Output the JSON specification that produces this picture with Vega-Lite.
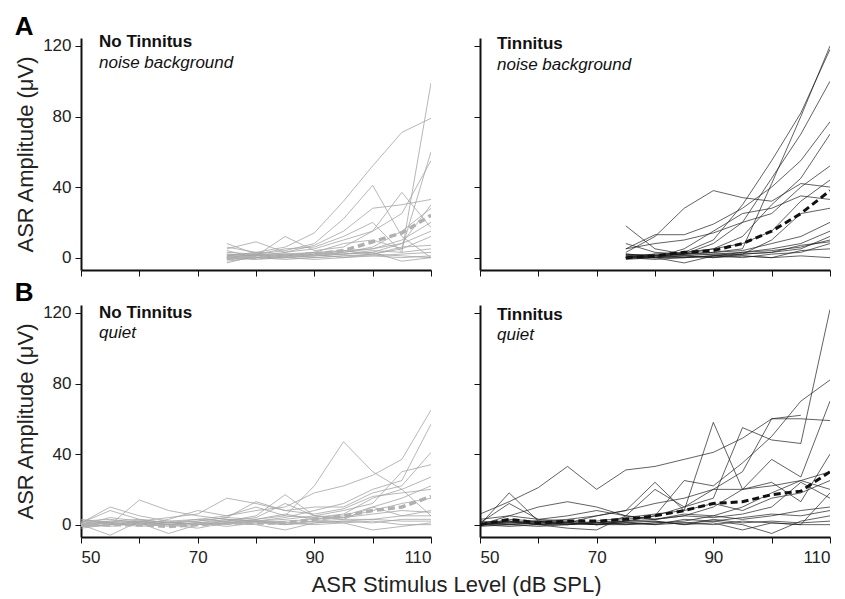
{
  "$schema": "https://vega.github.io/schema/vega-lite/v6.json",
  "padding": {"left": 14, "top": 14, "right": 0, "bottom": 0},
  "background": "white",
  "datasets": {
    "tl": [
      {"s":1,"x":75,"y":1},{"s":1,"x":80,"y":3},{"s":1,"x":85,"y":6},{"s":1,"x":90,"y":14},{"s":1,"x":95,"y":32},{"s":1,"x":100,"y":52},{"s":1,"x":105,"y":71},{"s":1,"x":110,"y":79},
      {"s":2,"x":75,"y":0},{"s":2,"x":80,"y":2},{"s":2,"x":85,"y":4},{"s":2,"x":90,"y":8},{"s":2,"x":95,"y":22},{"s":2,"x":100,"y":41},{"s":2,"x":105,"y":12},{"s":2,"x":110,"y":0},
      {"s":3,"x":75,"y":8},{"s":3,"x":80,"y":2},{"s":3,"x":85,"y":5},{"s":3,"x":90,"y":6},{"s":3,"x":95,"y":12},{"s":3,"x":100,"y":20},{"s":3,"x":105,"y":3},{"s":3,"x":110,"y":99},
      {"s":4,"x":75,"y":-2},{"s":4,"x":80,"y":0},{"s":4,"x":85,"y":1},{"s":4,"x":90,"y":3},{"s":4,"x":95,"y":8},{"s":4,"x":100,"y":10},{"s":4,"x":105,"y":5},{"s":4,"x":110,"y":60},
      {"s":5,"x":75,"y":2},{"s":5,"x":80,"y":1},{"s":5,"x":85,"y":3},{"s":5,"x":90,"y":5},{"s":5,"x":95,"y":10},{"s":5,"x":100,"y":15},{"s":5,"x":105,"y":25},{"s":5,"x":110,"y":55},
      {"s":6,"x":75,"y":5},{"s":6,"x":80,"y":9},{"s":6,"x":85,"y":3},{"s":6,"x":90,"y":7},{"s":6,"x":95,"y":15},{"s":6,"x":100,"y":28},{"s":6,"x":105,"y":30},{"s":6,"x":110,"y":33},
      {"s":7,"x":75,"y":-3},{"s":7,"x":80,"y":1},{"s":7,"x":85,"y":12},{"s":7,"x":90,"y":4},{"s":7,"x":95,"y":6},{"s":7,"x":100,"y":15},{"s":7,"x":105,"y":37},{"s":7,"x":110,"y":17},
      {"s":8,"x":75,"y":4},{"s":8,"x":80,"y":0},{"s":8,"x":85,"y":2},{"s":8,"x":90,"y":1},{"s":8,"x":95,"y":3},{"s":8,"x":100,"y":6},{"s":8,"x":105,"y":15},{"s":8,"x":110,"y":28},
      {"s":9,"x":75,"y":0},{"s":9,"x":80,"y":-1},{"s":9,"x":85,"y":0},{"s":9,"x":90,"y":2},{"s":9,"x":95,"y":4},{"s":9,"x":100,"y":5},{"s":9,"x":105,"y":10},{"s":9,"x":110,"y":20},
      {"s":10,"x":75,"y":1},{"s":10,"x":80,"y":2},{"s":10,"x":85,"y":0},{"s":10,"x":90,"y":1},{"s":10,"x":95,"y":2},{"s":10,"x":100,"y":3},{"s":10,"x":105,"y":8},{"s":10,"x":110,"y":15},
      {"s":11,"x":75,"y":-1},{"s":11,"x":80,"y":0},{"s":11,"x":85,"y":1},{"s":11,"x":90,"y":0},{"s":11,"x":95,"y":1},{"s":11,"x":100,"y":2},{"s":11,"x":105,"y":5},{"s":11,"x":110,"y":12},
      {"s":12,"x":75,"y":6},{"s":12,"x":80,"y":3},{"s":12,"x":85,"y":2},{"s":12,"x":90,"y":3},{"s":12,"x":95,"y":2},{"s":12,"x":100,"y":4},{"s":12,"x":105,"y":3},{"s":12,"x":110,"y":5},
      {"s":13,"x":75,"y":0},{"s":13,"x":80,"y":0},{"s":13,"x":85,"y":-1},{"s":13,"x":90,"y":0},{"s":13,"x":95,"y":1},{"s":13,"x":100,"y":1},{"s":13,"x":105,"y":2},{"s":13,"x":110,"y":3},
      {"s":14,"x":75,"y":2},{"s":14,"x":80,"y":1},{"s":14,"x":85,"y":1},{"s":14,"x":90,"y":2},{"s":14,"x":95,"y":0},{"s":14,"x":100,"y":1},{"s":14,"x":105,"y":0},{"s":14,"x":110,"y":1},
      {"s":15,"x":75,"y":-1},{"s":15,"x":80,"y":0},{"s":15,"x":85,"y":0},{"s":15,"x":90,"y":-1},{"s":15,"x":95,"y":0},{"s":15,"x":100,"y":2},{"s":15,"x":105,"y":1},{"s":15,"x":110,"y":0},
      {"s":16,"x":75,"y":3},{"s":16,"x":80,"y":2},{"s":16,"x":85,"y":1},{"s":16,"x":90,"y":3},{"s":16,"x":95,"y":4},{"s":16,"x":100,"y":2},{"s":16,"x":105,"y":6},{"s":16,"x":110,"y":7},
      {"s":17,"x":75,"y":0},{"s":17,"x":80,"y":1},{"s":17,"x":85,"y":2},{"s":17,"x":90,"y":2},{"s":17,"x":95,"y":3},{"s":17,"x":100,"y":5},{"s":17,"x":105,"y":8},{"s":17,"x":110,"y":30},
      {"s":18,"x":75,"y":1},{"s":18,"x":80,"y":0},{"s":18,"x":85,"y":0},{"s":18,"x":90,"y":1},{"s":18,"x":95,"y":2},{"s":18,"x":100,"y":3},{"s":18,"x":105,"y":-2},{"s":18,"x":110,"y":0}
    ],
    "tlm": [
      {"x":75,"y":0},{"x":80,"y":0},{"x":85,"y":1},{"x":90,"y":2},{"x":95,"y":4},{"x":100,"y":9},{"x":105,"y":14},{"x":110,"y":24}
    ],
    "tr": [
      {"s":1,"x":75,"y":0},{"s":1,"x":80,"y":1},{"s":1,"x":85,"y":2},{"s":1,"x":90,"y":3},{"s":1,"x":95,"y":5},{"s":1,"x":100,"y":42},{"s":1,"x":105,"y":80},{"s":1,"x":110,"y":120},
      {"s":2,"x":75,"y":1},{"s":2,"x":80,"y":0},{"s":2,"x":85,"y":3},{"s":2,"x":90,"y":10},{"s":2,"x":95,"y":30},{"s":2,"x":100,"y":55},{"s":2,"x":105,"y":82},{"s":2,"x":110,"y":118},
      {"s":3,"x":75,"y":18},{"s":3,"x":80,"y":5},{"s":3,"x":85,"y":2},{"s":3,"x":90,"y":8},{"s":3,"x":95,"y":20},{"s":3,"x":100,"y":45},{"s":3,"x":105,"y":70},{"s":3,"x":110,"y":100},
      {"s":4,"x":75,"y":3},{"s":4,"x":80,"y":12},{"s":4,"x":85,"y":28},{"s":4,"x":90,"y":38},{"s":4,"x":95,"y":34},{"s":4,"x":100,"y":32},{"s":4,"x":105,"y":42},{"s":4,"x":110,"y":40},
      {"s":5,"x":75,"y":5},{"s":5,"x":80,"y":13},{"s":5,"x":85,"y":13},{"s":5,"x":90,"y":19},{"s":5,"x":95,"y":28},{"s":5,"x":100,"y":40},{"s":5,"x":105,"y":55},{"s":5,"x":110,"y":77},
      {"s":6,"x":75,"y":8},{"s":6,"x":80,"y":3},{"s":6,"x":85,"y":2},{"s":6,"x":90,"y":5},{"s":6,"x":95,"y":12},{"s":6,"x":100,"y":30},{"s":6,"x":105,"y":45},{"s":6,"x":110,"y":70},
      {"s":7,"x":75,"y":5},{"s":7,"x":80,"y":8},{"s":7,"x":85,"y":10},{"s":7,"x":90,"y":14},{"s":7,"x":95,"y":20},{"s":7,"x":100,"y":25},{"s":7,"x":105,"y":40},{"s":7,"x":110,"y":52},
      {"s":8,"x":75,"y":2},{"s":8,"x":80,"y":0},{"s":8,"x":85,"y":5},{"s":8,"x":90,"y":15},{"s":8,"x":95,"y":25},{"s":8,"x":100,"y":28},{"s":8,"x":105,"y":35},{"s":8,"x":110,"y":33},
      {"s":9,"x":75,"y":0},{"s":9,"x":80,"y":2},{"s":9,"x":85,"y":3},{"s":9,"x":90,"y":5},{"s":9,"x":95,"y":8},{"s":9,"x":100,"y":15},{"s":9,"x":105,"y":32},{"s":9,"x":110,"y":44},
      {"s":10,"x":75,"y":1},{"s":10,"x":80,"y":0},{"s":10,"x":85,"y":-3},{"s":10,"x":90,"y":1},{"s":10,"x":95,"y":2},{"s":10,"x":100,"y":10},{"s":10,"x":105,"y":25},{"s":10,"x":110,"y":28},
      {"s":11,"x":75,"y":0},{"s":11,"x":80,"y":1},{"s":11,"x":85,"y":2},{"s":11,"x":90,"y":3},{"s":11,"x":95,"y":4},{"s":11,"x":100,"y":8},{"s":11,"x":105,"y":12},{"s":11,"x":110,"y":20},
      {"s":12,"x":75,"y":2},{"s":12,"x":80,"y":1},{"s":12,"x":85,"y":0},{"s":12,"x":90,"y":1},{"s":12,"x":95,"y":3},{"s":12,"x":100,"y":5},{"s":12,"x":105,"y":8},{"s":12,"x":110,"y":15},
      {"s":13,"x":75,"y":0},{"s":13,"x":80,"y":0},{"s":13,"x":85,"y":1},{"s":13,"x":90,"y":0},{"s":13,"x":95,"y":2},{"s":13,"x":100,"y":3},{"s":13,"x":105,"y":5},{"s":13,"x":110,"y":12},
      {"s":14,"x":75,"y":-1},{"s":14,"x":80,"y":0},{"s":14,"x":85,"y":0},{"s":14,"x":90,"y":1},{"s":14,"x":95,"y":0},{"s":14,"x":100,"y":2},{"s":14,"x":105,"y":3},{"s":14,"x":110,"y":8},
      {"s":15,"x":75,"y":1},{"s":15,"x":80,"y":2},{"s":15,"x":85,"y":1},{"s":15,"x":90,"y":0},{"s":15,"x":95,"y":1},{"s":15,"x":100,"y":0},{"s":15,"x":105,"y":4},{"s":15,"x":110,"y":5},
      {"s":16,"x":75,"y":0},{"s":16,"x":80,"y":-1},{"s":16,"x":85,"y":0},{"s":16,"x":90,"y":1},{"s":16,"x":95,"y":1},{"s":16,"x":100,"y":0},{"s":16,"x":105,"y":1},{"s":16,"x":110,"y":0},
      {"s":17,"x":75,"y":2},{"s":17,"x":80,"y":1},{"s":17,"x":85,"y":2},{"s":17,"x":90,"y":2},{"s":17,"x":95,"y":3},{"s":17,"x":100,"y":4},{"s":17,"x":105,"y":6},{"s":17,"x":110,"y":10},
      {"s":18,"x":75,"y":0},{"s":18,"x":80,"y":0},{"s":18,"x":85,"y":1},{"s":18,"x":90,"y":2},{"s":18,"x":95,"y":2},{"s":18,"x":100,"y":3},{"s":18,"x":105,"y":7},{"s":18,"x":110,"y":9}
    ],
    "trm": [
      {"x":75,"y":0},{"x":80,"y":1},{"x":85,"y":3},{"x":90,"y":4},{"x":95,"y":8},{"x":100,"y":15},{"x":105,"y":25},{"x":110,"y":38}
    ],
    "bl": [
      {"s":1,"x":50,"y":0},{"s":1,"x":55,"y":2},{"s":1,"x":60,"y":3},{"s":1,"x":65,"y":1},{"s":1,"x":70,"y":2},{"s":1,"x":75,"y":4},{"s":1,"x":80,"y":3},{"s":1,"x":85,"y":5},{"s":1,"x":90,"y":22},{"s":1,"x":95,"y":47},{"s":1,"x":100,"y":30},{"s":1,"x":105,"y":20},{"s":1,"x":110,"y":5},
      {"s":2,"x":50,"y":1},{"s":2,"x":55,"y":10},{"s":2,"x":60,"y":5},{"s":2,"x":65,"y":2},{"s":2,"x":70,"y":3},{"s":2,"x":75,"y":5},{"s":2,"x":80,"y":8},{"s":2,"x":85,"y":10},{"s":2,"x":90,"y":18},{"s":2,"x":95,"y":22},{"s":2,"x":100,"y":28},{"s":2,"x":105,"y":37},{"s":2,"x":110,"y":65},
      {"s":3,"x":50,"y":-1},{"s":3,"x":55,"y":0},{"s":3,"x":60,"y":14},{"s":3,"x":65,"y":8},{"s":3,"x":70,"y":5},{"s":3,"x":75,"y":3},{"s":3,"x":80,"y":2},{"s":3,"x":85,"y":4},{"s":3,"x":90,"y":8},{"s":3,"x":95,"y":12},{"s":3,"x":100,"y":20},{"s":3,"x":105,"y":25},{"s":3,"x":110,"y":57},
      {"s":4,"x":50,"y":0},{"s":4,"x":55,"y":-6},{"s":4,"x":60,"y":2},{"s":4,"x":65,"y":4},{"s":4,"x":70,"y":6},{"s":4,"x":75,"y":15},{"s":4,"x":80,"y":12},{"s":4,"x":85,"y":8},{"s":4,"x":90,"y":10},{"s":4,"x":95,"y":10},{"s":4,"x":100,"y":18},{"s":4,"x":105,"y":22},{"s":4,"x":110,"y":41},
      {"s":5,"x":50,"y":2},{"s":5,"x":55,"y":3},{"s":5,"x":60,"y":1},{"s":5,"x":65,"y":-5},{"s":5,"x":70,"y":0},{"s":5,"x":75,"y":2},{"s":5,"x":80,"y":5},{"s":5,"x":85,"y":17},{"s":5,"x":90,"y":5},{"s":5,"x":95,"y":8},{"s":5,"x":100,"y":12},{"s":5,"x":105,"y":30},{"s":5,"x":110,"y":34},
      {"s":6,"x":50,"y":0},{"s":6,"x":55,"y":1},{"s":6,"x":60,"y":0},{"s":6,"x":65,"y":3},{"s":6,"x":70,"y":8},{"s":6,"x":75,"y":5},{"s":6,"x":80,"y":10},{"s":6,"x":85,"y":5},{"s":6,"x":90,"y":4},{"s":6,"x":95,"y":6},{"s":6,"x":100,"y":15},{"s":6,"x":105,"y":20},{"s":6,"x":110,"y":27},
      {"s":7,"x":50,"y":-2},{"s":7,"x":55,"y":0},{"s":7,"x":60,"y":1},{"s":7,"x":65,"y":0},{"s":7,"x":70,"y":-2},{"s":7,"x":75,"y":1},{"s":7,"x":80,"y":3},{"s":7,"x":85,"y":6},{"s":7,"x":90,"y":3},{"s":7,"x":95,"y":5},{"s":7,"x":100,"y":10},{"s":7,"x":105,"y":15},{"s":7,"x":110,"y":22},
      {"s":8,"x":50,"y":1},{"s":8,"x":55,"y":8},{"s":8,"x":60,"y":3},{"s":8,"x":65,"y":1},{"s":8,"x":70,"y":2},{"s":8,"x":75,"y":4},{"s":8,"x":80,"y":13},{"s":8,"x":85,"y":8},{"s":8,"x":90,"y":6},{"s":8,"x":95,"y":9},{"s":8,"x":100,"y":16},{"s":8,"x":105,"y":18},{"s":8,"x":110,"y":20},
      {"s":9,"x":50,"y":0},{"s":9,"x":55,"y":1},{"s":9,"x":60,"y":-1},{"s":9,"x":65,"y":0},{"s":9,"x":70,"y":1},{"s":9,"x":75,"y":2},{"s":9,"x":80,"y":2},{"s":9,"x":85,"y":3},{"s":9,"x":90,"y":5},{"s":9,"x":95,"y":4},{"s":9,"x":100,"y":8},{"s":9,"x":105,"y":12},{"s":9,"x":110,"y":15},
      {"s":10,"x":50,"y":-1},{"s":10,"x":55,"y":0},{"s":10,"x":60,"y":0},{"s":10,"x":65,"y":1},{"s":10,"x":70,"y":0},{"s":10,"x":75,"y":1},{"s":10,"x":80,"y":1},{"s":10,"x":85,"y":2},{"s":10,"x":90,"y":3},{"s":10,"x":95,"y":4},{"s":10,"x":100,"y":6},{"s":10,"x":105,"y":8},{"s":10,"x":110,"y":7},
      {"s":11,"x":50,"y":2},{"s":11,"x":55,"y":1},{"s":11,"x":60,"y":0},{"s":11,"x":65,"y":0},{"s":11,"x":70,"y":1},{"s":11,"x":75,"y":0},{"s":11,"x":80,"y":2},{"s":11,"x":85,"y":1},{"s":11,"x":90,"y":2},{"s":11,"x":95,"y":3},{"s":11,"x":100,"y":3},{"s":11,"x":105,"y":5},{"s":11,"x":110,"y":5},
      {"s":12,"x":50,"y":0},{"s":12,"x":55,"y":-1},{"s":12,"x":60,"y":1},{"s":12,"x":65,"y":-1},{"s":12,"x":70,"y":0},{"s":12,"x":75,"y":1},{"s":12,"x":80,"y":0},{"s":12,"x":85,"y":-3},{"s":12,"x":90,"y":1},{"s":12,"x":95,"y":2},{"s":12,"x":100,"y":1},{"s":12,"x":105,"y":3},{"s":12,"x":110,"y":3},
      {"s":13,"x":50,"y":1},{"s":13,"x":55,"y":2},{"s":13,"x":60,"y":1},{"s":13,"x":65,"y":2},{"s":13,"x":70,"y":0},{"s":13,"x":75,"y":1},{"s":13,"x":80,"y":2},{"s":13,"x":85,"y":1},{"s":13,"x":90,"y":0},{"s":13,"x":95,"y":1},{"s":13,"x":100,"y":-3},{"s":13,"x":105,"y":-1},{"s":13,"x":110,"y":1},
      {"s":14,"x":50,"y":-1},{"s":14,"x":55,"y":0},{"s":14,"x":60,"y":2},{"s":14,"x":65,"y":0},{"s":14,"x":70,"y":1},{"s":14,"x":75,"y":-1},{"s":14,"x":80,"y":1},{"s":14,"x":85,"y":0},{"s":14,"x":90,"y":2},{"s":14,"x":95,"y":1},{"s":14,"x":100,"y":2},{"s":14,"x":105,"y":0},{"s":14,"x":110,"y":0},
      {"s":15,"x":50,"y":0},{"s":15,"x":55,"y":4},{"s":15,"x":60,"y":2},{"s":15,"x":65,"y":1},{"s":15,"x":70,"y":3},{"s":15,"x":75,"y":2},{"s":15,"x":80,"y":4},{"s":15,"x":85,"y":12},{"s":15,"x":90,"y":5},{"s":15,"x":95,"y":3},{"s":15,"x":100,"y":10},{"s":15,"x":105,"y":5},{"s":15,"x":110,"y":8},
      {"s":16,"x":50,"y":3},{"s":16,"x":55,"y":1},{"s":16,"x":60,"y":2},{"s":16,"x":65,"y":0},{"s":16,"x":70,"y":1},{"s":16,"x":75,"y":3},{"s":16,"x":80,"y":2},{"s":16,"x":85,"y":0},{"s":16,"x":90,"y":1},{"s":16,"x":95,"y":2},{"s":16,"x":100,"y":3},{"s":16,"x":105,"y":2},{"s":16,"x":110,"y":2}
    ],
    "blm": [
      {"x":50,"y":0},{"x":55,"y":0},{"x":60,"y":0},{"x":65,"y":-1},{"x":70,"y":0},{"x":75,"y":1},{"x":80,"y":1},{"x":85,"y":1},{"x":90,"y":3},{"x":95,"y":5},{"x":100,"y":8},{"x":105,"y":10},{"x":110,"y":16}
    ],
    "br": [
      {"s":1,"x":50,"y":0},{"s":1,"x":55,"y":3},{"s":1,"x":60,"y":2},{"s":1,"x":65,"y":1},{"s":1,"x":70,"y":0},{"s":1,"x":75,"y":2},{"s":1,"x":80,"y":5},{"s":1,"x":85,"y":10},{"s":1,"x":90,"y":15},{"s":1,"x":95,"y":55},{"s":1,"x":100,"y":48},{"s":1,"x":105,"y":46},{"s":1,"x":110,"y":122},
      {"s":2,"x":50,"y":6},{"s":2,"x":55,"y":13},{"s":2,"x":60,"y":21},{"s":2,"x":65,"y":33},{"s":2,"x":70,"y":20},{"s":2,"x":75,"y":31},{"s":2,"x":80,"y":33},{"s":2,"x":85,"y":37},{"s":2,"x":90,"y":41},{"s":2,"x":95,"y":49},{"s":2,"x":100,"y":60},{"s":2,"x":105,"y":62},
      {"s":3,"x":50,"y":0},{"s":3,"x":55,"y":1},{"s":3,"x":60,"y":2},{"s":3,"x":65,"y":3},{"s":3,"x":70,"y":5},{"s":3,"x":75,"y":8},{"s":3,"x":80,"y":12},{"s":3,"x":85,"y":15},{"s":3,"x":90,"y":20},{"s":3,"x":95,"y":30},{"s":3,"x":100,"y":60},{"s":3,"x":105,"y":60},{"s":3,"x":110,"y":59},
      {"s":4,"x":50,"y":0},{"s":4,"x":55,"y":18},{"s":4,"x":60,"y":2},{"s":4,"x":65,"y":1},{"s":4,"x":70,"y":5},{"s":4,"x":75,"y":8},{"s":4,"x":80,"y":24},{"s":4,"x":85,"y":8},{"s":4,"x":90,"y":58},{"s":4,"x":95,"y":20},{"s":4,"x":100,"y":22},{"s":4,"x":105,"y":25},{"s":4,"x":110,"y":20},
      {"s":5,"x":50,"y":0},{"s":5,"x":55,"y":5},{"s":5,"x":60,"y":10},{"s":5,"x":65,"y":13},{"s":5,"x":70,"y":10},{"s":5,"x":75,"y":5},{"s":5,"x":80,"y":3},{"s":5,"x":85,"y":5},{"s":5,"x":90,"y":10},{"s":5,"x":95,"y":20},{"s":5,"x":100,"y":37},{"s":5,"x":105,"y":27},{"s":5,"x":110,"y":70},
      {"s":6,"x":50,"y":1},{"s":6,"x":55,"y":12},{"s":6,"x":60,"y":3},{"s":6,"x":65,"y":2},{"s":6,"x":70,"y":1},{"s":6,"x":75,"y":3},{"s":6,"x":80,"y":5},{"s":6,"x":85,"y":25},{"s":6,"x":90,"y":22},{"s":6,"x":95,"y":35},{"s":6,"x":100,"y":50},{"s":6,"x":105,"y":70},{"s":6,"x":110,"y":82},
      {"s":7,"x":50,"y":0},{"s":7,"x":55,"y":2},{"s":7,"x":60,"y":0},{"s":7,"x":65,"y":-2},{"s":7,"x":70,"y":-3},{"s":7,"x":75,"y":5},{"s":7,"x":80,"y":20},{"s":7,"x":85,"y":10},{"s":7,"x":90,"y":20},{"s":7,"x":95,"y":20},{"s":7,"x":100,"y":24},{"s":7,"x":105,"y":13},{"s":7,"x":110,"y":40},
      {"s":8,"x":50,"y":-1},{"s":8,"x":55,"y":0},{"s":8,"x":60,"y":1},{"s":8,"x":65,"y":0},{"s":8,"x":70,"y":2},{"s":8,"x":75,"y":4},{"s":8,"x":80,"y":6},{"s":8,"x":85,"y":8},{"s":8,"x":90,"y":12},{"s":8,"x":95,"y":8},{"s":8,"x":100,"y":15},{"s":8,"x":105,"y":18},{"s":8,"x":110,"y":25},
      {"s":9,"x":50,"y":0},{"s":9,"x":55,"y":1},{"s":9,"x":60,"y":0},{"s":9,"x":65,"y":1},{"s":9,"x":70,"y":0},{"s":9,"x":75,"y":2},{"s":9,"x":80,"y":3},{"s":9,"x":85,"y":5},{"s":9,"x":90,"y":4},{"s":9,"x":95,"y":6},{"s":9,"x":100,"y":10},{"s":9,"x":105,"y":24},{"s":9,"x":110,"y":15},
      {"s":10,"x":50,"y":1},{"s":10,"x":55,"y":0},{"s":10,"x":60,"y":-1},{"s":10,"x":65,"y":0},{"s":10,"x":70,"y":1},{"s":10,"x":75,"y":0},{"s":10,"x":80,"y":1},{"s":10,"x":85,"y":2},{"s":10,"x":90,"y":5},{"s":10,"x":95,"y":3},{"s":10,"x":100,"y":5},{"s":10,"x":105,"y":8},{"s":10,"x":110,"y":10},
      {"s":11,"x":50,"y":0},{"s":11,"x":55,"y":-1},{"s":11,"x":60,"y":0},{"s":11,"x":65,"y":1},{"s":11,"x":70,"y":0},{"s":11,"x":75,"y":1},{"s":11,"x":80,"y":0},{"s":11,"x":85,"y":1},{"s":11,"x":90,"y":2},{"s":11,"x":95,"y":0},{"s":11,"x":100,"y":-5},{"s":11,"x":105,"y":2},{"s":11,"x":110,"y":5},
      {"s":12,"x":50,"y":2},{"s":12,"x":55,"y":1},{"s":12,"x":60,"y":2},{"s":12,"x":65,"y":0},{"s":12,"x":70,"y":1},{"s":12,"x":75,"y":2},{"s":12,"x":80,"y":2},{"s":12,"x":85,"y":0},{"s":12,"x":90,"y":3},{"s":12,"x":95,"y":1},{"s":12,"x":100,"y":2},{"s":12,"x":105,"y":1},{"s":12,"x":110,"y":2},
      {"s":13,"x":50,"y":0},{"s":13,"x":55,"y":0},{"s":13,"x":60,"y":1},{"s":13,"x":65,"y":1},{"s":13,"x":70,"y":0},{"s":13,"x":75,"y":0},{"s":13,"x":80,"y":1},{"s":13,"x":85,"y":1},{"s":13,"x":90,"y":0},{"s":13,"x":95,"y":2},{"s":13,"x":100,"y":1},{"s":13,"x":105,"y":0},{"s":13,"x":110,"y":0},
      {"s":14,"x":50,"y":1},{"s":14,"x":55,"y":2},{"s":14,"x":60,"y":0},{"s":14,"x":65,"y":0},{"s":14,"x":70,"y":1},{"s":14,"x":75,"y":1},{"s":14,"x":80,"y":0},{"s":14,"x":85,"y":3},{"s":14,"x":90,"y":2},{"s":14,"x":95,"y":4},{"s":14,"x":100,"y":6},{"s":14,"x":105,"y":5},{"s":14,"x":110,"y":8},
      {"s":15,"x":50,"y":3},{"s":15,"x":55,"y":5},{"s":15,"x":60,"y":3},{"s":15,"x":65,"y":5},{"s":15,"x":70,"y":8},{"s":15,"x":75,"y":5},{"s":15,"x":80,"y":3},{"s":15,"x":85,"y":6},{"s":15,"x":90,"y":5},{"s":15,"x":95,"y":10},{"s":15,"x":100,"y":18},{"s":15,"x":105,"y":25},{"s":15,"x":110,"y":30},
      {"s":16,"x":50,"y":0},{"s":16,"x":55,"y":2},{"s":16,"x":60,"y":1},{"s":16,"x":65,"y":2},{"s":16,"x":70,"y":0},{"s":16,"x":75,"y":1},{"s":16,"x":80,"y":2},{"s":16,"x":85,"y":0},{"s":16,"x":90,"y":1},{"s":16,"x":95,"y":-3},{"s":16,"x":100,"y":1},{"s":16,"x":105,"y":0},{"s":16,"x":110,"y":18}
    ],
    "brm": [
      {"x":50,"y":0},{"x":55,"y":3},{"x":60,"y":1},{"x":65,"y":2},{"x":70,"y":2},{"x":75,"y":3},{"x":80,"y":5},{"x":85,"y":8},{"x":90,"y":12},{"x":95,"y":13},{"x":100,"y":17},{"x":105,"y":19},{"x":110,"y":30}
    ]
  },
  "title": {
    "text": "ASR Stimulus Level (dB SPL)",
    "orient": "bottom",
    "anchor": "middle",
    "frame": "bounds",
    "dx": 34,
    "offset": 10,
    "fontSize": 22,
    "fontWeight": "normal",
    "font": "Liberation Sans",
    "color": "#222"
  },
  "spacing": 2,
  "vconcat": [
    {
      "title": {"text": "A", "anchor": "start", "frame": "bounds", "fontSize": 26, "fontWeight": "bold", "color": "#000", "offset": -7, "font": "Liberation Sans"},
      "bounds": "flush",
      "spacing": 49,
      "hconcat": [
        {
          "width": 350, "height": 232,
          "title": {"text": "No Tinnitus", "subtitle": "noise background", "anchor": "start", "frame": "group", "dx": 18, "offset": -35.5, "fontSize": 17, "fontWeight": "bold", "color": "#111", "font": "Liberation Sans", "subtitleFont": "Liberation Sans", "subtitleFontSize": 17, "subtitleFontStyle": "italic", "subtitleColor": "#111", "subtitlePadding": 4},
          "layer": [
            {"data": {"name": "tl"}, "mark": {"type": "line", "color": "#a4a4a4", "strokeWidth": 0.8, "clip": true},
             "encoding": {
               "x": {"field": "x", "type": "quantitative", "scale": {"domain": [50, 110], "nice": false}, "axis": {"values": [50,60,70,80,90,100,110], "labels": false, "title": null}},
               "y": {"field": "y", "type": "quantitative", "scale": {"domain": [-7, 124.5], "nice": false, "zero": false}, "axis": {"values": [0,20,40,60,80,100,120], "labelExpr": "datum.value % 40 == 0 ? datum.label : ''", "title": "ASR Amplitude (μV)"}},
               "detail": {"field": "s", "type": "nominal"}
             }},
            {"data": {"name": "tlm"}, "mark": {"type": "line", "color": "#b0b0b0", "strokeWidth": 3.5, "strokeDash": [7, 4], "clip": true},
             "encoding": {
               "x": {"field": "x", "type": "quantitative"},
               "y": {"field": "y", "type": "quantitative"}
             }}
          ]
        },
        {
          "width": 350, "height": 232,
          "title": {"text": "Tinnitus", "subtitle": "noise background", "anchor": "start", "frame": "group", "dx": 17, "offset": -35.5, "fontSize": 17, "fontWeight": "bold", "color": "#111", "font": "Liberation Sans", "subtitleFont": "Liberation Sans", "subtitleFontSize": 17, "subtitleFontStyle": "italic", "subtitleColor": "#111", "subtitlePadding": 4},
          "layer": [
            {"data": {"name": "tr"}, "mark": {"type": "line", "color": "#1e1e1e", "strokeWidth": 0.7, "clip": true},
             "encoding": {
               "x": {"field": "x", "type": "quantitative", "scale": {"domain": [50, 110], "nice": false}, "axis": {"values": [50,60,70,80,90,100,110], "labels": false, "title": null}},
               "y": {"field": "y", "type": "quantitative", "scale": {"domain": [-7, 124.5], "nice": false, "zero": false}, "axis": {"values": [0,20,40,60,80,100,120], "labels": false, "title": null}},
               "detail": {"field": "s", "type": "nominal"}
             }},
            {"data": {"name": "trm"}, "mark": {"type": "line", "color": "#111111", "strokeWidth": 3, "strokeDash": [7, 4], "clip": true},
             "encoding": {
               "x": {"field": "x", "type": "quantitative"},
               "y": {"field": "y", "type": "quantitative"}
             }}
          ]
        }
      ]
    },
    {
      "title": {"text": "B", "anchor": "start", "frame": "bounds", "fontSize": 26, "fontWeight": "bold", "color": "#000", "offset": -2, "font": "Liberation Sans"},
      "bounds": "flush",
      "spacing": 49,
      "hconcat": [
        {
          "width": 350, "height": 232,
          "title": {"text": "No Tinnitus", "subtitle": "quiet", "anchor": "start", "frame": "group", "dx": 18, "offset": -38.5, "fontSize": 17, "fontWeight": "bold", "color": "#111", "font": "Liberation Sans", "subtitleFont": "Liberation Sans", "subtitleFontSize": 17, "subtitleFontStyle": "italic", "subtitleColor": "#111", "subtitlePadding": 3},
          "layer": [
            {"data": {"name": "bl"}, "mark": {"type": "line", "color": "#a4a4a4", "strokeWidth": 0.8, "clip": true},
             "encoding": {
               "x": {"field": "x", "type": "quantitative", "scale": {"domain": [50, 110], "nice": false}, "axis": {"values": [50,60,70,80,90,100,110], "labelExpr": "datum.value % 20 == 10 ? datum.label : ''", "title": null}},
               "y": {"field": "y", "type": "quantitative", "scale": {"domain": [-7, 124.5], "nice": false, "zero": false}, "axis": {"values": [0,20,40,60,80,100,120], "labelExpr": "datum.value % 40 == 0 ? datum.label : ''", "title": "ASR Amplitude (μV)"}},
               "detail": {"field": "s", "type": "nominal"}
             }},
            {"data": {"name": "blm"}, "mark": {"type": "line", "color": "#b0b0b0", "strokeWidth": 3.5, "strokeDash": [7, 4], "clip": true},
             "encoding": {
               "x": {"field": "x", "type": "quantitative"},
               "y": {"field": "y", "type": "quantitative"}
             }}
          ]
        },
        {
          "width": 350, "height": 232,
          "title": {"text": "Tinnitus", "subtitle": "quiet", "anchor": "start", "frame": "group", "dx": 17, "offset": -38.5, "fontSize": 17, "fontWeight": "bold", "color": "#111", "font": "Liberation Sans", "subtitleFont": "Liberation Sans", "subtitleFontSize": 17, "subtitleFontStyle": "italic", "subtitleColor": "#111", "subtitlePadding": 3},
          "layer": [
            {"data": {"name": "br"}, "mark": {"type": "line", "color": "#1e1e1e", "strokeWidth": 0.7, "clip": true},
             "encoding": {
               "x": {"field": "x", "type": "quantitative", "scale": {"domain": [50, 110], "nice": false}, "axis": {"values": [50,60,70,80,90,100,110], "labelExpr": "datum.value % 20 == 10 ? datum.label : ''", "title": null}},
               "y": {"field": "y", "type": "quantitative", "scale": {"domain": [-7, 124.5], "nice": false, "zero": false}, "axis": {"values": [0,20,40,60,80,100,120], "labels": false, "title": null}},
               "detail": {"field": "s", "type": "nominal"}
             }},
            {"data": {"name": "brm"}, "mark": {"type": "line", "color": "#111111", "strokeWidth": 3, "strokeDash": [7, 4], "clip": true},
             "encoding": {
               "x": {"field": "x", "type": "quantitative"},
               "y": {"field": "y", "type": "quantitative"}
             }}
          ]
        }
      ]
    }
  ],
  "config": {
    "font": "Liberation Sans",
    "view": {"stroke": null},
    "axis": {
      "domainColor": "#111", "domainWidth": 2,
      "tickColor": "#111", "tickWidth": 1, "tickSize": 6,
      "labelFont": "Liberation Sans", "labelFontSize": 17, "labelColor": "#222", "labelPadding": 4,
      "grid": false,
      "titleFont": "Liberation Sans", "titleFontSize": 22, "titleFontWeight": "normal", "titleColor": "#222", "titlePadding": 5
    },
    "axisX": {"labelPadding": 6}
  }
}
